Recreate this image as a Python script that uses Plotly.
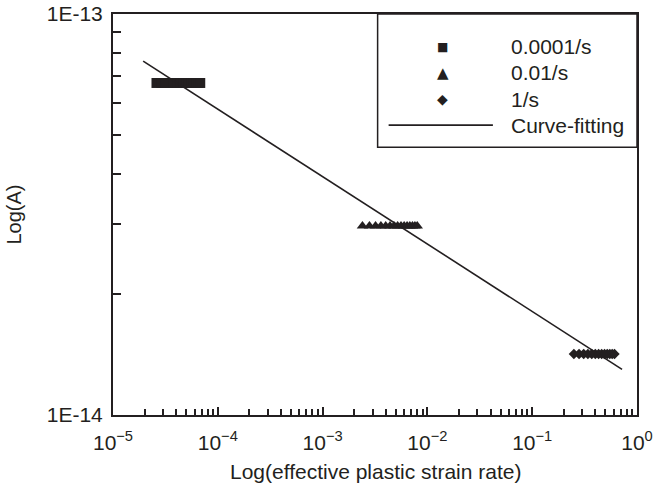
import plotly.graph_objects as go

# ---- data ----
rate_1e4_x = [2.6e-5, 2.9e-5, 3.2e-5, 3.5e-5, 3.8e-5, 4.1e-5, 4.4e-5, 4.7e-5,
              5.0e-5, 5.3e-5, 5.6e-5, 5.9e-5, 6.2e-5, 6.5e-5, 6.8e-5]
rate_1e4_y = [6.73e-14] * 15

rate_1e2_x = [2.4e-3, 2.8e-3, 3.2e-3, 3.6e-3, 4.0e-3, 4.4e-3, 4.8e-3, 5.2e-3,
              5.6e-3, 6.0e-3, 6.4e-3, 6.8e-3, 7.2e-3, 7.6e-3, 8.0e-3]
rate_1e2_y = [2.96e-14] * 15

rate_1_x = [0.25, 0.28, 0.31, 0.34, 0.37, 0.40, 0.43, 0.46, 0.49, 0.52, 0.55, 0.58, 0.61]
rate_1_y = [1.42e-14] * 13

fit_x = [1.94e-5, 0.72]
fit_y = [7.63e-14, 1.30e-14]

x_tickvals = [1e-5, 1e-4, 1e-3, 1e-2, 1e-1, 1]
x_ticktext = ["10<sup>\u22125</sup>", "10<sup>\u22124</sup>", "10<sup>\u22123</sup>",
              "10<sup>\u22122</sup>", "10<sup>\u22121</sup>", "10<sup>0</sup>"]
y_tickvals = [1e-14, 1e-13]
y_ticktext = ["1E-14", "1E-13"]

legend_labels = ["0.0001/s", "0.01/s", "1/s", "Curve-fitting"]
x_title = "Log(effective plastic strain rate)"
y_title = "Log(A)"

INK = "#231f20"
FONT = "Liberation Sans, Arial, Helvetica, sans-serif"

fig = go.Figure()
fig.add_trace(go.Scatter(x=rate_1e4_x, y=rate_1e4_y, mode="markers", name=legend_labels[0],
                         marker=dict(symbol="square", size=10, color=INK, line=dict(width=0))))
fig.add_trace(go.Scatter(x=rate_1e2_x, y=rate_1e2_y, mode="markers", name=legend_labels[1],
                         marker=dict(symbol="triangle-up", size=10, color=INK, line=dict(width=0))))
fig.add_trace(go.Scatter(x=rate_1_x, y=rate_1_y, mode="markers", name=legend_labels[2],
                         marker=dict(symbol="diamond", size=8, color=INK, line=dict(width=0))))
fig.add_trace(go.Scatter(x=fit_x, y=fit_y, mode="lines", name=legend_labels[3],
                         line=dict(color=INK, width=1.6)))

minor_x = [m * 10 ** e for e in range(-5, 0) for m in range(2, 10)]
minor_y = [m * 1e-14 for m in range(2, 10)]

fig.update_xaxes(type="log", range=[-5, 0], tickmode="array", tickvals=x_tickvals,
                 ticktext=x_ticktext, ticks="inside", ticklen=8, tickwidth=1.5, tickcolor=INK,
                 showline=True, linecolor=INK, linewidth=2, mirror=True, showgrid=False,
                 zeroline=False, automargin=False, ticklabelstandoff=8,
                 tickfont=dict(family=FONT, size=21, color=INK),
                 minor=dict(tickvals=minor_x, ticks="inside", ticklen=6, tickwidth=1.5,
                            tickcolor=INK, showgrid=False))
fig.update_yaxes(type="log", range=[-14, -13], tickmode="array", tickvals=y_tickvals,
                 ticktext=y_ticktext, ticks="", showline=True, linecolor=INK, linewidth=2,
                 mirror=True, showgrid=False, zeroline=False, automargin=False,
                 ticklabelstandoff=4,
                 tickfont=dict(family=FONT, size=21, color=INK),
                 minor=dict(tickvals=minor_y, ticks="inside", ticklen=8, tickwidth=1.5,
                            tickcolor=INK, showgrid=False),
                 title=dict(text=y_title, font=dict(family=FONT, size=20, color=INK), standoff=20))

# x-axis title placed as an annotation so it can sit as low as in the reference
fig.add_annotation(xref="paper", yref="paper", x=0.5, y=-0.142, text=x_title, showarrow=False,
                   font=dict(family=FONT, size=21, color=INK), xanchor="center", yanchor="middle")

# ---- hand-drawn legend box (paper coordinates) ----
fig.add_shape(type="rect", xref="paper", yref="paper", x0=0.505, x1=1.0, y0=0.668, y1=1.0,
              line=dict(color=INK, width=1.5), fillcolor="white", layer="above")
row_y = [0.918, 0.853, 0.788, 0.723]
glyphs = ["\u25A0", "\u25B2", "\u25C6"]
glyph_sizes = [12, 15, 14]
for gy, g, gs in zip(row_y[:3], glyphs, glyph_sizes):
    fig.add_annotation(xref="paper", yref="paper", x=0.629, y=gy, text=g, showarrow=False,
                       font=dict(family="DejaVu Sans", size=gs, color=INK),
                       xanchor="center", yanchor="middle")
fig.add_shape(type="line", xref="paper", yref="paper", x0=0.526, x1=0.725,
              y0=row_y[3], y1=row_y[3], line=dict(color=INK, width=1.6), layer="above")
for ly, lab in zip(row_y, legend_labels):
    fig.add_annotation(xref="paper", yref="paper", x=0.755, y=ly, text=lab, showarrow=False,
                       font=dict(family=FONT, size=21, color=INK),
                       xanchor="left", yanchor="middle")

fig.update_layout(width=655, height=485, showlegend=False,
                  margin=dict(l=113, r=18, t=14, b=70),
                  plot_bgcolor="white", paper_bgcolor="white",
                  font=dict(family=FONT, color=INK))

fig.write_html("out.html")
